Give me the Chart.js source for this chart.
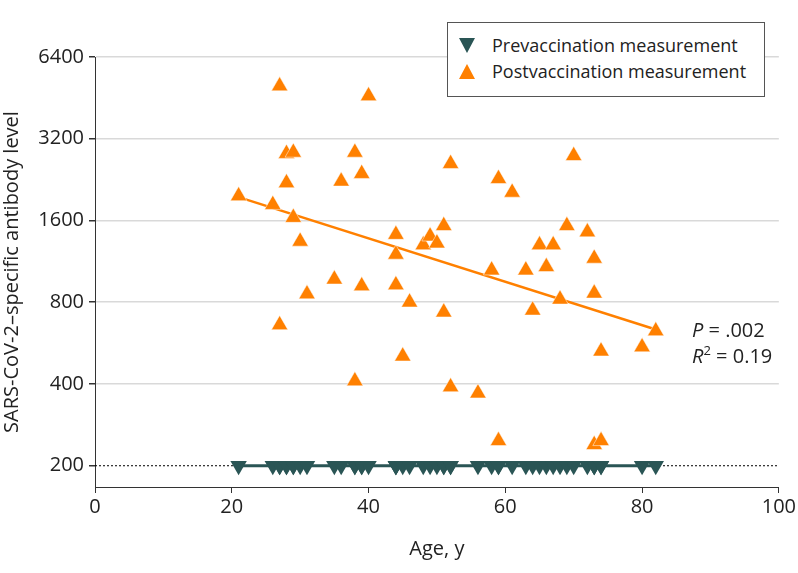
<!DOCTYPE html>
<html>
<head>
<meta charset="utf-8">
<script src="https://cdn.jsdelivr.net/npm/chart.js@4.4.1/dist/chart.umd.min.js"></script>
<style>
  body { margin: 0; background: #fff; font-family: "Open Sans", sans-serif; color: #222; }
  #wrap { position: relative; width: 798px; height: 573px; }
  #legend {
    position: absolute; left: 447px; top: 22px; width: 318px; height: 75px;
    border: 1px solid #555; background: #fff; box-sizing: border-box;
    font-size: 18px; line-height: 26px; padding-top: 9px;
  }
  .item { position: relative; padding-left: 44px; white-space: nowrap; }
  .mark { position: absolute; left: 11px; top: 6px; width: 0; height: 0;
    border-left: 8px solid transparent; border-right: 8px solid transparent; }
  .down { border-top: 15px solid #2a5555; }
  .up { border-bottom: 15px solid #ff8000; }
  .stat { position: absolute; left: 692px; font-size: 20px; white-space: nowrap; }
  .stat i { font-style: italic; }
</style>
</head>
<body>
<div id="wrap">
  <canvas id="chart" width="798" height="573"></canvas>
  <div id="legend"></div>
  <div class="stat" style="top:316px"><i>P</i> = .002</div>
  <div class="stat" style="top:341px"><i>R</i><sup style="font-size:13px">2</sup> = 0.19</div>
</div>
<script>
// participant ages (x) and antibody levels (y)
const ages = [21, 26, 27, 27, 28, 28, 29, 29, 30, 31, 35, 36, 38, 38, 39, 39, 40,
  44, 44, 44, 45, 46, 48, 49, 50, 51, 51, 52, 52, 56, 58, 59, 59, 61, 63, 64, 65,
  66, 67, 68, 69, 70, 72, 73, 73, 73, 74, 74, 80, 82];
const postLevels = [1970, 1830, 5000, 660, 2200, 2820, 2850, 1640, 1340, 857, 972,
  2230, 2850, 410, 2380, 918, 4600, 926, 1200, 1420, 506, 800, 1300, 1400, 1320,
  1530, 735, 2590, 390, 370, 1050, 247, 2280, 2030, 1050, 747, 1300, 1080, 1300,
  820, 1530, 2770, 1450, 1160, 863, 239, 247, 528, 547, 627];
const preLevels = [200, 200, 200, 200, 200, 200, 200, 200, 200, 200, 200, 200, 200,
  200, 200, 200, 200, 200, 200, 200, 200, 200, 200, 200, 200, 200, 200, 200, 200,
  200, 200, 200, 200, 200, 200, 200, 200, 200, 200, 200, 200, 200, 200, 200, 200,
  200, 200, 200, 200, 200];
const postFit = [{ x: 21, y: 1950 }, { x: 82, y: 635 }];
const preFit = [{ x: 21, y: 200 }, { x: 82, y: 200 }];
const refLine = [{ x: 0, y: 200 }, { x: 100, y: 200 }];
const yTicks = [200, 400, 800, 1600, 3200, 6400];
const xTicks = [0, 20, 40, 60, 80, 100];

const series = [
  { label: "Prevaccination measurement", color: "#2a5555", cls: "down" },
  { label: "Postvaccination measurement", color: "#ff8000", cls: "up" },
];

const toPoints = (xs, ys) => xs.map((x, i) => ({ x: x, y: ys[i] }));

// legend in html
const legend = document.getElementById("legend");
series.forEach((s) => {
  const row = document.createElement("div");
  row.className = "item";
  const m = document.createElement("span");
  m.className = "mark " + s.cls;
  row.appendChild(m);
  row.appendChild(document.createTextNode(s.label));
  legend.appendChild(row);
});

const font = { family: "'Open Sans', sans-serif", size: 20 };
const titleFont = { family: "'Open Sans', sans-serif", size: 20 };

new Chart(document.getElementById("chart"), {
  type: "scatter",
  data: {
    datasets: [
      {
        data: refLine, showLine: true, borderColor: "#000", borderWidth: 1,
        borderDash: [2, 2], pointRadius: 0, order: 5,
      },
      {
        data: preFit, showLine: true, borderColor: series[0].color, borderWidth: 3,
        pointRadius: 0, order: 4,
      },
      {
        label: series[0].label, data: toPoints(ages, preLevels),
        pointStyle: "triangle", rotation: 180, pointRadius: 9.5,
        backgroundColor: series[0].color, borderColor: series[0].color, borderWidth: 0, order: 3,
      },
      {
        data: postFit, showLine: true, borderColor: series[1].color, borderWidth: 2.5,
        pointRadius: 0, order: 2,
      },
      {
        label: series[1].label, data: toPoints(ages, postLevels),
        pointStyle: "triangle", pointRadius: 9.5,
        backgroundColor: series[1].color, borderColor: "#fff", borderWidth: 0.5, order: 1,
      },
    ],
  },
  options: {
    responsive: false,
    animation: false,
    layout: { padding: { top: 57, right: 18, left: 0, bottom: 0 } },
    plugins: { legend: { display: false }, tooltip: { enabled: false } },
    scales: {
      x: {
        type: "linear", min: 0, max: 100,
        afterBuildTicks: (s) => { s.ticks = xTicks.map((v) => ({ value: v })); },
        afterFit: (s) => { s.height = 86; },
        border: { color: "#333", width: 1 },
        grid: { drawOnChartArea: false, tickLength: 6, color: "#333" },
        ticks: { color: "#222", font: font, padding: 2 },
        title: { display: true, text: "Age, y", color: "#222", font: titleFont, padding: { top: 0, bottom: 12 } },
      },
      y: {
        type: "logarithmic", min: 167, max: 6400,
        afterBuildTicks: (s) => { s.ticks = yTicks.map((v) => ({ value: v })); },
        afterFit: (s) => { s.width = 95; },
        border: { color: "#333", width: 1 },
        grid: {
          tickLength: 6,
          color: (c) => (c.tick && c.tick.value === 200 ? "rgba(0,0,0,0)" : "#d9d9d9"),
          tickColor: "#333",
          lineWidth: 1.5,
        },
        ticks: { color: "#222", font: font, padding: 5, callback: (v) => String(v) },
        title: { display: true, text: "SARS-CoV-2–specific antibody level", color: "#222", font: titleFont, padding: { top: 0, bottom: 3 } },
      },
    },
  },
});
</script>
</body>
</html>
